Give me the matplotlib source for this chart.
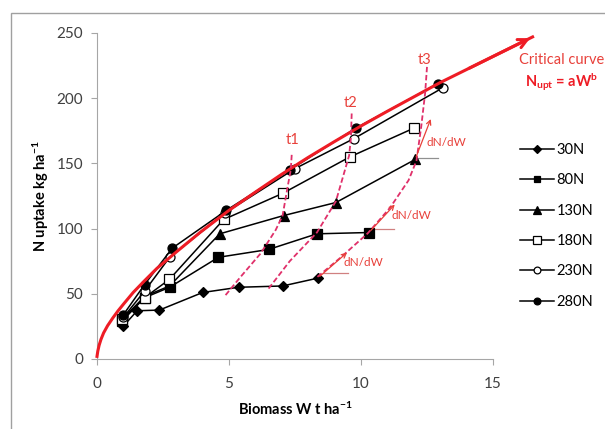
import matplotlib
matplotlib.use('Agg')
import matplotlib.pyplot as plt
from matplotlib.patches import Rectangle

plt.rcParams['font.family'] = ['Lato', 'DejaVu Sans']
plt.rcParams['mathtext.default'] = 'regular'

# nitrogen treatments: biomass W (t/ha) and N uptake (kg/ha)
w_30 = [0.99, 1.52, 2.36, 4.0, 5.36, 7.03, 8.36]
n_30 = [25, 37, 37.5, 51, 55, 56, 62]
w_80 = [0.95, 1.8, 2.75, 4.6, 6.5, 8.33, 10.3]
n_80 = [29, 47, 55, 78, 84, 96, 97]
w_130 = [0.95, 1.8, 2.75, 4.65, 7.07, 9.05, 12.05]
n_130 = [30, 48, 56, 96, 110, 120, 153]
w_180 = [0.95, 1.8, 2.74, 4.8, 7.03, 9.58, 12.0]
n_180 = [31, 47, 61, 107, 127, 155, 177]
w_230 = [1.0, 1.8, 2.75, 4.85, 7.5, 9.73, 13.1]
n_230 = [32, 52, 78, 112, 146, 169, 208]
w_280 = [1.0, 1.8, 2.85, 4.9, 7.3, 9.8, 12.9]
n_280 = [34, 57, 85, 114, 145, 177, 211]

# critical curve
w_crit = [0.0, 0.03, 0.08, 0.15, 0.25, 0.4, 0.6, 0.8, 1.0, 1.37, 1.8, 2.27, 3, 3.9, 5, 6, 7, 8,
          9, 10, 11, 12, 13, 14, 15, 16.5]
n_crit = [2, 6, 10.5, 15, 20, 25.5, 31.5, 37, 42, 51, 60, 69.5, 82, 97, 114, 128, 141.7, 154.6,
          166.8, 178.7, 190, 201, 212, 222, 232, 247]

# isochrones t1, t2, t3
w_t1 = [4.87, 5.44, 6.2, 6.77, 7.03, 7.22, 7.34, 7.38]
n_t1 = [49, 63, 81, 99, 110, 132, 145, 158]
w_t2 = [6.5, 7.3, 8.33, 9.05, 9.35, 9.55, 9.62, 9.65]
n_t2 = [54, 75, 97, 121, 142, 156, 170, 190]
w_t3 = [8.35, 9.24, 10.26, 11.1, 11.8, 12.1, 12.28, 12.43, 12.5]
n_t3 = [63, 78, 96.5, 116, 137, 152, 178, 204, 224]

# dN/dW tangents: start, end, horizontal reference
tan_start = [(8.36, 62), (10.3, 97), (12.05, 153)]
tan_end = [(9.55, 83), (11.35, 120), (12.68, 186)]
horiz = [(8.55, 9.5, 66), (10.3, 11.25, 100), (12.05, 12.9, 154)]
tan_text = [(10.08, 74), (11.9, 110), (13.25, 166)]

series = [
    ('30N', w_30, n_30, 'D', 'black', 5.5),
    ('80N', w_80, n_80, 's', 'black', 6.5),
    ('130N', w_130, n_130, '^', 'black', 7.5),
    ('180N', w_180, n_180, 's', 'white', 7),
    ('230N', w_230, n_230, 'o', 'white', 6.5),
    ('280N', w_280, n_280, 'o', 'black', 6.5),
]

red = '#ee1c25'
pink = '#e0306a'
txt_red = '#e8403a'
grey_txt = '#404040'

fig = plt.figure(figsize=(6.05, 4.29), dpi=100)
fig.patches.append(Rectangle((11 / 605, -0.1), 1.2, 1.1 - 13 / 429, transform=fig.transFigure,
                             fill=False, edgecolor='#a0a0a0', lw=1.0))
ax = fig.add_axes([97 / 605, 70 / 429, 396 / 605, 326 / 429])

for lab, w, n, m, fc, ms in series:
    ax.plot(w, n, color='black', lw=1.1, marker=m, ms=ms, mfc=fc, mec='black', mew=0.9,
            label=lab, zorder=3)

ax.plot(w_crit, n_crit, color=red, lw=2.2, clip_on=False, zorder=4, solid_joinstyle='round')
ax.annotate('', xy=(w_crit[-1], n_crit[-1]), xytext=(w_crit[-3], n_crit[-3]),
            arrowprops=dict(arrowstyle='->', color=red, lw=2.2, mutation_scale=16),
            annotation_clip=False, zorder=4)

for w, n in [(w_t1, n_t1), (w_t2, n_t2), (w_t3, n_t3)]:
    ax.plot(w, n, color=pink, lw=1.3, ls=(0, (3, 1.5)), zorder=5)

for lab, x, y in [('t1', 7.4, 168), ('t2', 9.62, 196), ('t3', 12.4, 229)]:
    ax.text(x, y, lab, color=txt_red, fontsize=10.5, ha='center', va='center')

for (x0, y0), (x1, y1) in zip(tan_start, tan_end):
    ax.annotate('', xy=(x1, y1), xytext=(x0, y0),
                arrowprops=dict(arrowstyle='->', color=txt_red, lw=0.9, mutation_scale=8), zorder=5)
for i, (x0, x1, y) in enumerate(horiz):
    ax.plot([x0, x1], [y, y], color='#d08080' if i < 2 else '#909090', lw=0.9, zorder=2)
for x, y in tan_text:
    ax.text(x, y, 'dN/dW', color=txt_red, fontsize=8.5, ha='center', va='center')

ax.text(17.6, 229, 'Critical curve', color=txt_red, fontsize=10.5, ha='center', va='center',
        clip_on=False)
ax.text(17.6, 212, r'N$_{upt}$ = aW$^{b}$', color=red, fontsize=10.5, fontweight='bold',
        ha='center', va='center', clip_on=False)

ax.set_xlim(0, 15)
ax.set_ylim(0, 250)
ax.set_xticks([0, 5, 10, 15])
ax.set_yticks([0, 50, 100, 150, 200, 250])
for s in ['top', 'right']:
    ax.spines[s].set_visible(False)
for s in ['left', 'bottom']:
    ax.spines[s].set_color('#a6a6a6')
ax.tick_params(colors='#a6a6a6', labelcolor=grey_txt, labelsize=11, length=4, direction='out')
ax.tick_params(axis='x', pad=9)
ax.tick_params(axis='y', pad=6)
ax.set_xlabel('Biomass W t ha$^{-1}$', fontsize=10.5, fontweight='bold', labelpad=7)
ax.set_ylabel('N uptake kg ha$^{-1}$', fontsize=10.5, fontweight='bold', labelpad=4)

ax.legend(loc='upper left', bbox_to_anchor=(520 / 605, 1 - 143 / 429), bbox_transform=fig.transFigure,
          frameon=False, fontsize=10.5, labelspacing=1.12, handlelength=2.3, handletextpad=0.2,
          borderaxespad=0, borderpad=0, markerscale=0.75)

fig.savefig('out.png', dpi=100)
